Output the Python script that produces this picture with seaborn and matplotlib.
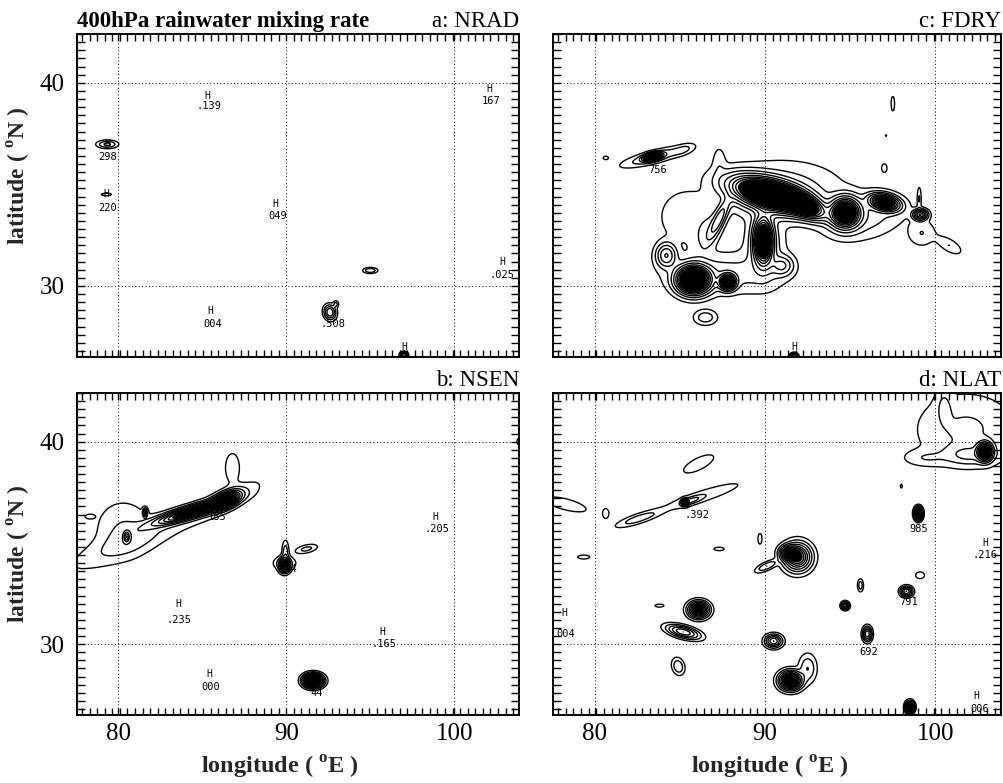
import numpy as np
import matplotlib
matplotlib.use("Agg")
import matplotlib.pyplot as plt
import seaborn as sns
from matplotlib.ticker import MultipleLocator, FixedLocator, NullFormatter

# ---------------- data ----------------
# blobs of the rainwater field: (lon, lat, amplitude, x-scale, y-scale, rotation deg)
blobs_a = [
    (79.35, 36.97, 0.7, 0.35, 0.11, 0),
    (79.30, 34.50, 0.3, 0.20, 0.04, 0),
    (95.00, 30.76, 0.6, 0.24, 0.08, 0),
    (92.60, 28.70, 1.5, 0.19, 0.21, 40),
    (92.95, 29.10, 0.4, 0.10, 0.10, 0),
    (97.00, 26.60, 2.0, 0.12, 0.08, 0),
]
blobs_c = [
    (83.50, 36.35, 0.6, 1.10, 0.18, 12),
    (85.20, 36.70, 0.3, 0.40, 0.15, 15),
    (83.40, 36.35, 6.0, 0.30, 0.10, 10),
    (80.65, 36.30, 0.2, 0.13, 0.07, 0),
    (97.50, 38.97, 0.2, 0.085, 0.30, 0),
    (97.00, 35.80, 0.2, 0.13, 0.17, 0),
    (97.10, 37.40, 0.15, 0.04, 0.04, 0),
    (86.50, 28.45, 0.5, 0.40, 0.22, 0),
    (99.10, 33.50, 2.5, 0.25, 0.15, 0),
    (99.20, 32.60, 0.3, 0.50, 0.40, 0),
    (100.80, 32.00, 0.3, 0.50, 0.20, -25),
    (99.05, 34.30, 0.3, 0.07, 0.35, 0),
    (85.30, 33.40, 0.25, 1.00, 0.85, 0),
    (87.30, 36.10, 0.2, 0.25, 0.50, 0),
    (91.00, 34.70, 0.45, 2.10, 0.85, 0),
    (95.80, 33.40, 0.45, 1.45, 0.65, 10),
    (87.50, 30.60, 0.45, 2.00, 0.60, 0),
    (90.00, 31.80, 0.45, 0.70, 1.00, 0),
    (86.60, 32.60, 0.35, 0.40, 0.70, -30),
    (90.30, 34.50, 8.0, 1.30, 0.42, -12),
    (92.20, 34.00, 5.0, 0.80, 0.30, -20),
    (94.70, 33.60, 6.0, 0.50, 0.42, 0),
    (97.00, 34.10, 5.0, 0.50, 0.22, -10),
    (89.90, 32.20, 6.0, 0.32, 0.65, 0),
    (85.80, 30.30, 8.0, 0.55, 0.38, 0),
    (87.80, 30.20, 5.0, 0.27, 0.22, 0),
    (84.20, 31.50, 1.5, 0.35, 0.35, 0),
    (87.30, 33.30, 1.2, 0.20, 0.70, -30),
    (91.00, 31.00, 1.0, 0.40, 0.30, 0),
    (91.70, 26.55, 2.0, 0.12, 0.08, 0),
]
blobs_b = [
    (80.80, 35.10, 0.35, 2.30, 0.45, 19),
    (86.20, 37.00, 0.4, 1.40, 0.30, 22),
    (80.30, 35.70, 0.3, 1.00, 0.85, 0),
    (86.80, 38.70, 0.2, 0.35, 0.60, 0),
    (84.30, 36.50, 4.0, 1.30, 0.17, 14),
    (86.40, 37.10, 5.0, 0.50, 0.20, 20),
    (81.60, 36.50, 1.5, 0.08, 0.12, 0),
    (80.50, 35.30, 1.5, 0.10, 0.15, 0),
    (78.30, 36.30, 0.2, 0.20, 0.08, 0),
    (89.90, 33.90, 3.0, 0.18, 0.20, 0),
    (89.95, 34.50, 0.5, 0.12, 0.35, 0),
    (91.20, 34.70, 0.4, 0.40, 0.12, 10),
    (89.90, 34.00, 0.4, 0.40, 0.20, 0),
    (91.60, 28.20, 8.0, 0.30, 0.17, 0),
    (103.90, 40.00, 0.2, 0.15, 0.15, 0),
]
blobs_d = [
    (102.90, 39.50, 5.0, 0.25, 0.25, 0),
    (102.00, 39.35, 0.6, 0.90, 0.30, 0),
    (101.80, 40.60, 0.35, 1.80, 1.10, 0),
    (99.40, 39.20, 0.25, 0.80, 0.25, 0),
    (100.50, 41.80, 0.25, 0.30, 0.55, 0),
    (86.10, 38.90, 0.2, 0.80, 0.25, 22),
    (86.30, 37.30, 0.25, 1.60, 0.20, 15),
    (85.70, 37.10, 0.6, 0.40, 0.10, 15),
    (85.30, 37.00, 2.5, 0.12, 0.10, 0),
    (82.60, 36.20, 0.5, 0.80, 0.14, 15),
    (78.30, 36.90, 0.25, 0.90, 0.20, -12),
    (80.65, 36.45, 0.2, 0.15, 0.20, 0),
    (79.35, 34.30, 0.2, 0.30, 0.08, 0),
    (87.30, 34.70, 0.2, 0.25, 0.07, 0),
    (89.70, 35.20, 0.2, 0.10, 0.22, 0),
    (91.90, 34.30, 3.5, 0.45, 0.38, 0),
    (91.40, 34.50, 3.0, 0.30, 0.20, 0),
    (90.10, 33.85, 0.6, 0.40, 0.12, 20),
    (95.60, 32.90, 0.5, 0.10, 0.18, 0),
    (94.70, 31.90, 3.0, 0.12, 0.10, 0),
    (99.10, 33.40, 0.2, 0.22, 0.14, 0),
    (98.30, 32.60, 2.0, 0.20, 0.14, 0),
    (99.00, 36.45, 4.0, 0.13, 0.17, 0),
    (98.00, 37.80, 0.15, 0.06, 0.10, 0),
    (96.00, 30.50, 2.0, 0.15, 0.20, 0),
    (86.10, 31.70, 4.0, 0.33, 0.22, 0),
    (85.20, 30.60, 2.0, 0.55, 0.16, -12),
    (83.80, 31.90, 0.2, 0.22, 0.06, 0),
    (84.90, 28.90, 0.6, 0.20, 0.25, 30),
    (90.50, 30.15, 2.0, 0.28, 0.18, 0),
    (91.50, 28.20, 5.0, 0.36, 0.25, 0),
    (92.50, 28.80, 0.6, 0.30, 0.40, 0),
    (98.50, 26.90, 4.0, 0.14, 0.15, 0),
]

# "H" maxima markers (lon, lat)
h_a = [(85.3, 39.34), (79.35, 36.97), (79.3, 34.5), (89.35, 34.04),
       (102.1, 39.7), (102.85, 31.16), (85.5, 28.74), (97.0, 27.0)]
h_c = [(91.7, 27.0)]
h_b = [(83.6, 32.0), (95.7, 30.6), (98.9, 36.3), (85.4, 28.5)]
h_d = [(102.9, 35.0), (78.2, 31.55), (102.4, 27.45)]

# maxima values (lon, lat, text)
v_a = [(85.4, 38.84, ".139"), (79.4, 36.36, "298"), (79.4, 33.84, "220"),
       (89.5, 33.43, "049"), (102.2, 39.1, "167"), (102.85, 30.56, ".025"),
       (85.6, 28.13, "004"), (92.8, 28.13, ".508")]
v_c = [(83.7, 35.7, "756")]
v_b = [(83.6, 31.2, ".235"), (95.8, 30.0, ".165"), (98.95, 35.7, ".205"),
       (85.5, 27.9, "000"), (85.9, 36.3, "185"), (90.1, 33.7, "314"),
       (91.8, 27.6, "44")]
v_d = [(102.9, 34.4, ".216"), (78.3, 30.5, "004"), (102.6, 26.8, "006"),
       (86.0, 36.4, ".392"), (99.05, 35.7, "985"), (98.4, 32.1, "791"),
       (96.1, 29.6, "692")]

titles_right = ["a: NRAD", "b: NSEN", "c: FDRY", "d: NLAT"]
main_title = "400hPa rainwater mixing rate"
levels = [0.1, 0.3, 0.6, 1.0, 1.5, 2.0, 2.5, 3.0, 3.5, 4.0, 4.5, 5.0,
          5.5, 6.0, 6.5, 7.0, 7.5, 8.0]
dark_level = 3.2
lon_ticks = [80, 90, 100]
lat_ticks = [30, 40]

# ---------------- style ----------------
sns.set_theme(style="white")
plt.rcParams['font.family'] = ['Liberation Serif', 'DejaVu Serif']
plt.rcParams['mathtext.fontset'] = 'custom'
plt.rcParams['mathtext.rm'] = 'Liberation Serif'
plt.rcParams['mathtext.bf'] = 'Liberation Serif:bold'
plt.rcParams['axes.edgecolor'] = 'black'
plt.rcParams['text.color'] = 'black'
plt.rcParams['xtick.color'] = 'black'
plt.rcParams['ytick.color'] = 'black'

lon = np.arange(77.0, 104.5, 0.025)
lat = np.arange(26.0, 43.0, 0.025)
LON, LAT = np.meshgrid(lon, lat)


def field(blobs):
    z = np.zeros_like(LON)
    for x0, y0, a, sx, sy, ang in blobs:
        t = np.deg2rad(ang)
        dx, dy = LON - x0, LAT - y0
        u = dx * np.cos(t) + dy * np.sin(t)
        v = -dx * np.sin(t) + dy * np.cos(t)
        z += a * np.exp(-0.5 * ((u / sx) ** 2 + (v / sy) ** 2))
    return z


fig = plt.figure(figsize=(10.04, 7.83), dpi=100)
rects = {
    'a': [77 / 1004, 1 - 357 / 783, 442 / 1004, 323 / 783],
    'c': [553 / 1004, 1 - 357 / 783, 448 / 1004, 323 / 783],
    'b': [77 / 1004, 1 - 715 / 783, 442 / 1004, 322 / 783],
    'd': [553 / 1004, 1 - 715 / 783, 448 / 1004, 322 / 783],
}
panels = [
    ('a', blobs_a, h_a, v_a, titles_right[0], True, False),
    ('b', blobs_b, h_b, v_b, titles_right[1], True, True),
    ('c', blobs_c, h_c, v_c, titles_right[2], False, False),
    ('d', blobs_d, h_d, v_d, titles_right[3], False, True),
]

for key, blobs, hs, vs, rtitle, left, bottom in panels:
    ax = fig.add_axes(rects[key])
    ax.set_xlim(77.55, 103.85)
    ax.set_ylim(26.5, 42.4)
    z = field(blobs)
    ax.contourf(LON, LAT, z, levels=[dark_level, 1e6], colors='black')
    ax.contour(LON, LAT, z, levels=levels, colors='black', linewidths=1.0)
    for x, y in hs:
        ax.text(x, y, "H", ha='center', va='center', fontsize=7,
                family='DejaVu Sans Mono', color='black')
    for x, y, s in vs:
        ax.text(x, y, s, ha='center', va='center', fontsize=7.5,
                family='DejaVu Sans Mono', color='black')

    ax.xaxis.set_major_locator(FixedLocator(lon_ticks))
    ax.yaxis.set_major_locator(FixedLocator(lat_ticks))
    ax.xaxis.set_minor_locator(MultipleLocator(0.45))
    ax.yaxis.set_minor_locator(MultipleLocator(0.4))
    ax.grid(True, which='major', color='black', linestyle=(0, (1, 2.5)), linewidth=0.7)
    ax.tick_params(which='both', direction='in', top=True, bottom=True,
                   left=True, right=True, width=1.0, color='black')
    ax.tick_params(axis='x', which='both', length=5)
    ax.tick_params(axis='y', which='both', length=6)
    ax.tick_params(axis='both', which='major', labelsize=18)
    ax.tick_params(axis='y', pad=9)
    ax.tick_params(axis='x', pad=6)
    for sp in ax.spines.values():
        sp.set_color('black')
        sp.set_linewidth(1.4)
        sp.set_visible(True)

    if left:
        ax.set_ylabel(r"latitude ( $^{\mathbf{o}}$N )", fontsize=17,
                      fontweight='bold')
        ax.yaxis.set_label_coords(-0.10, 0.56 if key == 'a' else 0.5)
    else:
        ax.yaxis.set_major_formatter(NullFormatter())
    if bottom:
        ax.set_xlabel(r"longitude ( $^{\mathbf{o}}$E )", fontsize=17.5,
                      fontweight='bold')
        ax.xaxis.set_label_coords(0.46 if key == 'b' else 0.485, -0.12)
    else:
        ax.xaxis.set_major_formatter(NullFormatter())

    ax.set_title(rtitle, loc='right', fontsize=16.5, pad=5)
    if key == 'a':
        ax.set_title(main_title, loc='left', fontsize=16.5, fontweight='bold', pad=5)

fig.savefig("out.png", dpi=100)
